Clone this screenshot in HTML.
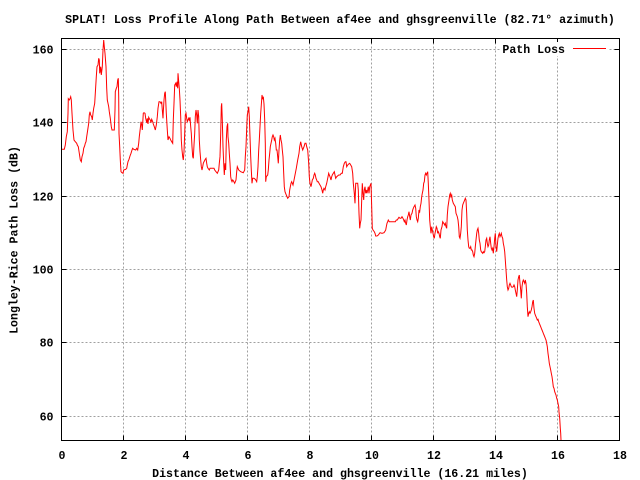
<!DOCTYPE html>
<html><head><meta charset="utf-8"><style>
html,body{margin:0;padding:0;background:#fff;}
svg{display:block;}
text{font-family:"Liberation Mono","DejaVu Sans Mono",monospace;font-weight:bold;font-size:11.6px;fill:#000;}
</style></head><body>
<svg width="640" height="480" viewBox="0 0 640 480" xmlns="http://www.w3.org/2000/svg">
<rect width="640" height="480" fill="#fff"/>
<g stroke="#a0a0a0" stroke-width="1" stroke-dasharray="2,2" shape-rendering="crispEdges">
<line x1="123.5" y1="38.5" x2="123.5" y2="440.5"/>
<line x1="185.5" y1="38.5" x2="185.5" y2="440.5"/>
<line x1="247.5" y1="38.5" x2="247.5" y2="440.5"/>
<line x1="309.5" y1="38.5" x2="309.5" y2="440.5"/>
<line x1="371.5" y1="38.5" x2="371.5" y2="440.5"/>
<line x1="433.5" y1="38.5" x2="433.5" y2="440.5"/>
<line x1="495.5" y1="38.5" x2="495.5" y2="440.5"/>
<line x1="557.5" y1="38.5" x2="557.5" y2="440.5"/>
<line x1="61.5" y1="49.5" x2="619.5" y2="49.5"/>
<line x1="61.5" y1="122.5" x2="619.5" y2="122.5"/>
<line x1="61.5" y1="196.5" x2="619.5" y2="196.5"/>
<line x1="61.5" y1="269.5" x2="619.5" y2="269.5"/>
<line x1="61.5" y1="342.5" x2="619.5" y2="342.5"/>
<line x1="61.5" y1="416.5" x2="619.5" y2="416.5"/>
</g>
<g stroke="#000" stroke-width="1" shape-rendering="crispEdges">
<path d="M123.5 440.5v-5M185.5 440.5v-5M247.5 440.5v-5M309.5 440.5v-5M371.5 440.5v-5M433.5 440.5v-5M495.5 440.5v-5M557.5 440.5v-5
M123.5 38.5v5M185.5 38.5v5M247.5 38.5v5M309.5 38.5v5M371.5 38.5v5M433.5 38.5v5M495.5 38.5v5M557.5 38.5v5
M61.5 49.5h5M61.5 122.5h5M61.5 196.5h5M61.5 269.5h5M61.5 342.5h5M61.5 416.5h5
M619.5 49.5h-5M619.5 122.5h-5M619.5 196.5h-5M619.5 269.5h-5M619.5 342.5h-5M619.5 416.5h-5"/>
</g>
<rect x="500" y="42" width="108" height="14" fill="#fff"/>
<polyline fill="none" stroke="#ff0000" stroke-width="1" stroke-linejoin="miter" points="
62,149.3 64.3,149.3 65.3,145 66.3,136.7 67.3,131.7 68,113.3 68.3,98.7 69.3,100 70,98.7 70.7,96.7 71.3,100 72,113.3 73,130 74,140 75.3,141.7 76.7,143.3 77.3,145 78.3,146.7 79.3,153.3 80.3,160 81.3,161.7 82,156.7 83,153.3 83.7,148.3 84.7,145.7 85.3,143.3 86,141.7 86.7,136.7 87.7,130 88.7,123.3 89.3,115 90,111.7 90.7,115 91.7,116.7 92.3,120 93,113.3 93.7,108.3 94.7,103.3 95.3,93.3 96.3,76.7 97,66.7 98,65 98.7,58.3 99.3,60 99.7,73.3 100.7,66.7 101.3,75 102.3,66.7 103,50 103.7,40 104.3,46.7 105,53.3 106,66.7 106.7,88.3 107.3,100 108,103.3 108.7,106.7 109.3,111.7 110.3,118.3 111.3,126.7 112,130 114.3,130 115,110 115.3,91.7 116.3,88.3 117,86.7 117.7,80 118.3,78.3 118.7,96.7 119,133.3 119.7,146.7 120.3,160 121,171.7 122,172.7 123,173.3 123.7,170 125.7,169.3 126.7,168.3 127.3,165 128,161.7 129,159.3 130,156 131,153.3 132,150 132.7,148.3 133.7,149.3 135.7,150 136.7,148.3 137.7,150 138.7,143.3 139.3,136.7 140.3,128.3 141,121.7 141.7,125 142.3,130 143.3,113.3 144,112.7 145,113.3 145.7,118.3 146.7,122.7 147.3,118.3 148,124 148.7,117.3 149.7,119.3 150.3,120 151,122.7 151.7,119.3 152.7,121.7 153.3,124 154.3,126.7 155.3,130 156.3,125 157.3,116.7 158,108.3 159,101.7 160,101.7 161,103.3 161.7,101.7 162.3,110 163,118.3 163.3,111.7 164,100 164.7,93.3 165.3,91.7 165.7,100 166.3,113.3 167.3,130 168,140 169,136.7 170,138.3 170.7,140 171.7,141.7 172.7,143.3 173.3,120 174,103.3 174.7,85 175.7,83.3 176.3,86.7 177,81.7 177.7,88.3 178,73.3 178.7,81.7 179.3,88.3 180,100 180.7,116.7 181.3,140 182,150 182.7,156.7 183.3,160 184,151.7 184.7,133.3 185.3,115 186,113.3 186.7,118.3 187.3,121.7 188,120 188.7,118.3 189.3,120 190,117.3 190.7,126.7 191.3,133.3 192,146.7 192.7,156.7 193.3,158.3 194,145 194.7,133.3 195.3,116.7 196,110 196.7,115 197.3,123.3 198,110 198.7,116.7 199.3,140 200,151.7 200.7,160 201.3,166.7 202,170 202.7,166.7 203.3,163.3 204,161.7 205.3,159.3 206,158.3 206.7,163.3 207.3,166.7 208,168.3 209.3,170 210,168.3 214,168.3 214.7,170 216,171.7 217.3,173.3 218,171.7 218.7,170 219.3,163.3 220,156.7 220.7,133.3 221.3,106.7 221.7,103.3 222.3,120 223,146.7 223.7,163.3 224.3,175 225,163.3 225.7,170 226.3,140 227,126.7 227.7,123.3 228,136.7 228.7,143.3 229.3,153.3 230,163.3 230.7,176.7 231.3,180 232,181.7 232.7,180 233.3,180.7 234.7,183.3 235.3,181.7 236,180 236.7,171.7 237.3,166.7 238.7,170 240.7,171.7 243.3,172.7 244.7,170 245.3,156.7 246,146.7 246.7,128.3 247.3,115 248,111.7 248.7,106.7 249.3,116.7 250,136.7 250.7,156.7 251.3,170 252,183.3 252.7,178.3 254,178.3 255.3,179.3 256.7,181.7 257.3,176.7 258,166.7 258.7,150 259.3,140 260,126.7 260.7,113.3 261.3,105 262,95 262.7,99.3 263.3,96.7 264,104 264.7,120 265.3,143.3 265.7,181.7 266.3,176.7 267.7,175 268.3,170 269,160 269.7,153.3 270.3,146.7 271,143.3 271.7,140 272.3,136.7 273,135 273.7,136.7 274.3,140 275,138.3 275.7,143.3 276.3,150 277,150 277.7,156.7 278.3,163.3 279,150 279.7,140 280.3,135 281,140 281.7,143.3 282.3,150 283,156.7 283.7,173.3 284.3,186.7 285,191.7 286.3,195 287.7,198.3 289,196.7 289.7,190 291,183.3 291.7,181.7 293,185 293.7,181.7 295,175 296.3,168.3 297.7,160 299,153.3 299.7,146.7
300.7,141.7 301.7,146.7 302.7,150 304,146.7 305,143.3 306,143.3 306.7,146.7 307.7,150 308.7,163.3 309.3,176.7 310,183.3 311,186.7 311.7,183.3 312.3,180 313.3,178.3 314,175 314.7,173.3 315.3,175 316,178.3 316.7,180 317.3,181.7 318.3,181.7 319,183.3 320,185 321,186.7 322,190 322.7,193.3 323.3,190 324,188.3 325,190 325.7,186.7 326.7,183.3 327.7,178.3 328.7,173.3 329.3,175 330,176.7 331,180 331.7,176.7 332.3,175 333.3,173.3 334.3,171.7 335,175 335.7,178.3 336.7,176.7 338.7,175 340,175 341.3,173.3 342.3,173.3 343.3,166.7 344.3,163.3 345.3,161.7 346,161.7 346.7,166.7 347.7,165 348.7,164 349.7,163.3 350.7,165 351.7,166.7 352.7,173.3 353.3,183.3 354.3,193.3 355,203.3 355.7,183.3 357.7,183.3 358.3,190 359,213.3 359.7,228.3 360.3,223.3 361,220 361.7,200 362.3,183.3 363,193.3 363.7,200 364.3,190 365,186.7 365.7,193.3 366.3,190 367,193.3 367.7,190 368.3,186.7 369,193.3 369.7,186.7 371,183.3 371.7,206.7 372.3,228.3 373,230 374.3,231.7 375,233.3 375.7,236 377,236 378.3,235 380,232.7 382,233.3 384,232.7 384.7,231.7 385.7,230 386.3,226.7 387,223.3 387.7,221.7 388.3,220 389.3,221.7 395.3,221.7 396.3,220 397.3,220 398.3,218.3 399,217.3 400,218.3 401,218.3 402,216.7 403,218.3 403.7,220 404.3,221.7 405,220 405.7,223.3 406.3,225 407,220 407.7,216.7 408.3,215 409,211.7 409.7,216.7 410.3,220 411,215 412,213.3 412.7,210 413.3,208.3 414,206.7 415,205 415.7,208.3 416.3,216.7 417,220 417.7,221.7 418.3,218.3 419,210 419.7,211.7 420.3,206.7 421,203.3 421.7,196.7 422.3,193.3 423,190 423.7,183.3 424.3,181.7 425,175 425.7,173.3 426.3,175 427,173.3 427.7,171.7 428.3,183.3 429,200 429.7,220 430.3,226.7 431,233.3 431.7,226.7 432.3,230 433,233.3 433.7,236.7 434.3,238.3 435,233.3 435.7,230 436.3,226.7 437,228.3 437.7,233.3 438.3,231.7 439,233.3 439.7,236.7 440.3,238.3
441,230 442,226.7 442.7,221.7 443.7,223.3 444.7,225 445.3,223.3 446,226.7 446.7,228.3 447.3,215 448,206.7 449,200 449.7,195 450.3,193.3 451,196.7 451.7,195 452.3,200 453.3,203.3 454.3,205 455.3,206.7 456,213.3 456.7,215 457.3,216.7 458,220 458.7,226.7 459.3,236.7 460,238.3 460.7,233.3 461.3,226.7 462,210 462.7,205 463.3,203.3 464,201.7 464.7,200 465.3,198.3 466,200 466.7,213.3 467.3,230 468,240 468.7,246.7 469.3,248.3 470,248.3 470.7,246.7 471.3,250 472,250 472.7,251.7 473.3,255 474,256.7 474.7,253.3 475.3,246.7 476,240 476.7,233.3 477.3,230 478,228.3 478.7,233.3 479.3,240 480,243.3 480.7,250 481.3,251.7 482.7,253.3 483.3,251.7 484,252.7 484.7,251.7 485.3,246.7 486,240 486.7,238.3 487.3,243.3 488,246.7 488.7,245 489.3,240 490,236.7 490.7,243.3 491.3,248.3 492,250 492.7,248.3 493.3,253.3 494,246.7 494.7,238.3 495.3,233.3 496,246.7 496.7,251.7 497.3,245 498,238.3 498.7,235 499.3,233.3 500,236.7 500.7,235 501.3,233.3 502,236.7 502.7,238.3 503.3,243.3 504,246.7 504.7,251.7 505.3,260 506,270 506.7,280 507.3,286.7 508,290 508.7,288.3 509.3,285 510,283.3 510.7,285 511.3,286.7 512,287.3 513.3,286.7 514,285 514.7,286.7 515.3,290 516,293.3 516.7,296.7 517.3,290 518,280 518.7,276.7 519.3,275 520,283.3 520.7,290 521.3,298.3 522,286.7 522.7,281.7 523.3,280 524,281.7 524.7,283.3 525.3,280 526,283.3 526.7,293.3 527.3,306.7 528,316.7 528.7,313.3 529.3,311.7 530,313.3 530.7,311.7 531.3,310 532,306.7 532.7,301.7 533.3,300
534,308.3 534.7,313.3 535.3,315 536,316.7 536.7,318.3 537.3,320 538,319.3 538.7,321.7 539.3,323.3 540,325 540.7,326.7 541.3,328.3 542,330 542.7,331.7 543.3,333.3 544,335 544.7,336.7 545.3,338.3 546,340 546.7,343.3 547.3,346.7 548,353.3 548.7,358.3 549.3,363.3 550,366.7 550.7,370 551.3,373.3 552,376.7 552.7,381.7 553.3,386.7 554,388.3 554.7,391.7 555.3,393.3 556,395 556.7,398.3 557.3,400 558,403.3 558.7,406.7 559,411.7 559.3,415 559.7,418.3 560,423.3 560.3,428.3 560.7,433.3 561,440"/>
<rect x="61.5" y="38.5" width="558" height="402" fill="none" stroke="#000" stroke-width="1" shape-rendering="crispEdges"/>
<line x1="573" y1="48.5" x2="606" y2="48.5" stroke="#ff0000" stroke-width="1" shape-rendering="crispEdges"/>
<text x="565" y="53" text-anchor="end">Path Loss</text>
<text x="340" y="23" text-anchor="middle">SPLAT! Loss Profile Along Path Between af4ee and ghsgreenville (82.71° azimuth)</text>
<g text-anchor="end">
<text x="53.5" y="53.5">160</text>
<text x="53.5" y="126.5">140</text>
<text x="53.5" y="200.5">120</text>
<text x="53.5" y="273.5">100</text>
<text x="53.5" y="346.5">80</text>
<text x="53.5" y="420.5">60</text>
</g>
<g text-anchor="middle">
<text x="62" y="459">0</text>
<text x="124" y="459">2</text>
<text x="186" y="459">4</text>
<text x="248" y="459">6</text>
<text x="310" y="459">8</text>
<text x="372" y="459">10</text>
<text x="434" y="459">12</text>
<text x="496" y="459">14</text>
<text x="558" y="459">16</text>
<text x="620" y="459">18</text>
<text x="340" y="477">Distance Between af4ee and ghsgreenville (16.21 miles)</text>
<text x="0" y="0" transform="translate(17.5,240) rotate(-90)">Longley-Rice Path Loss (dB)</text>
</g>
</svg>
</body></html>
